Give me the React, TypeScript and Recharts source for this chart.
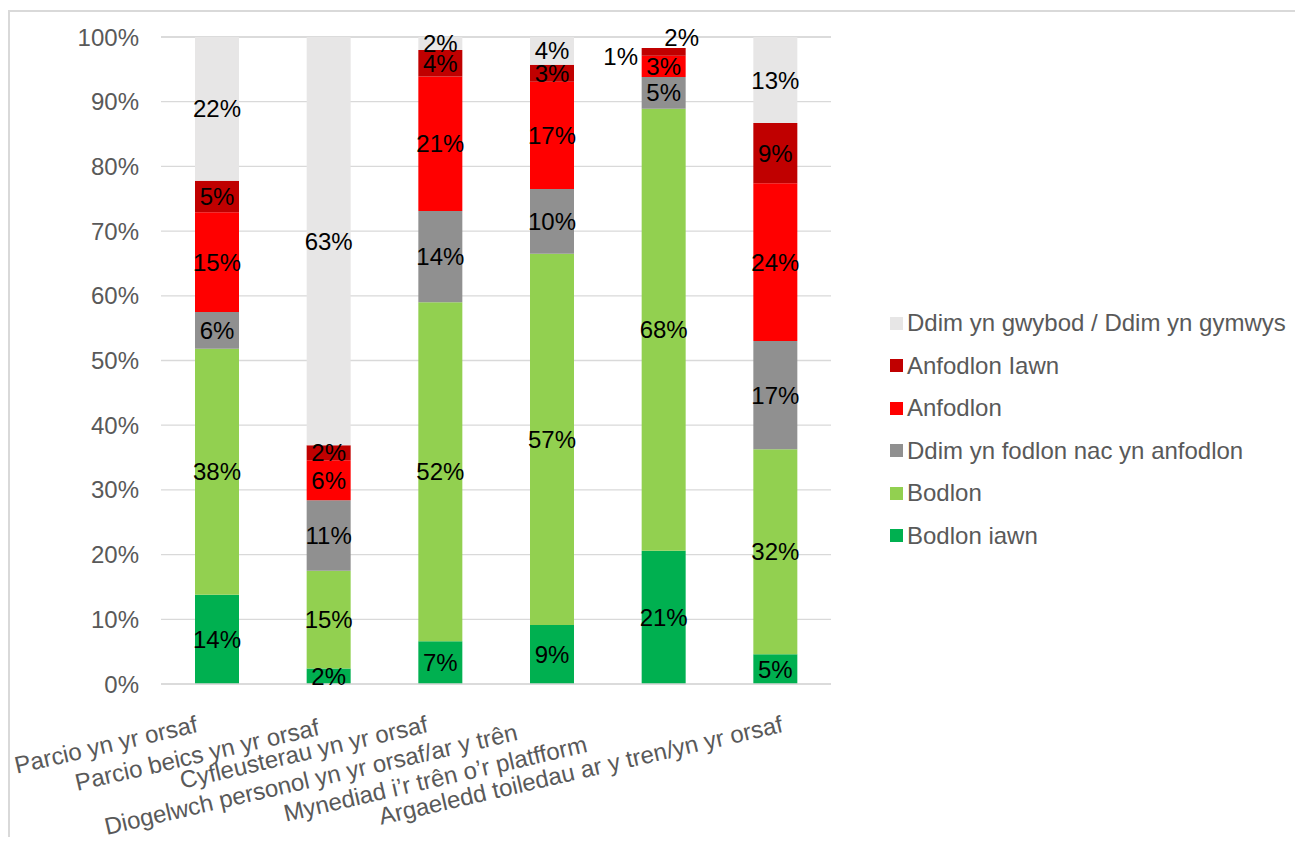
import React from 'react';
import { BarChart, Bar, XAxis, YAxis, CartesianGrid, Legend, LabelList, Cell } from 'recharts';

const categories = [
  'Parcio yn yr orsaf',
  'Parcio beics yn yr orsaf',
  'Cyfleusterau yn yr orsaf',
  'Diogelwch personol yn yr orsaf/ar y trên',
  'Mynediad i\u2019r trên o\u2019r platfform',
  'Argaeledd toiledau ar y tren/yn yr orsaf',
];

const bodlonIawn = [13.8, 2.4, 6.6, 9.1, 20.6, 4.6];
const bodlon = [38.0, 15.1, 52.4, 57.4, 68.3, 31.7];
const niwtral = [5.7, 10.9, 14.1, 10.0, 4.9, 16.7];
const anfodlon = [15.4, 6.2, 20.8, 16.6, 3.3, 24.4];
const anfodlonIawn = [4.9, 2.3, 4.1, 2.6, 1.2, 9.3];
const ddimGwybod = [22.2, 63.1, 2.0, 4.3, 1.7, 13.3];

const yTicks = [0, 10, 20, 30, 40, 50, 60, 70, 80, 90, 100];

const seriesList = [
  { key: 'bodlonIawn', name: 'Bodlon iawn', color: '#00B050', values: bodlonIawn },
  { key: 'bodlon', name: 'Bodlon', color: '#92D050', values: bodlon },
  { key: 'niwtral', name: 'Ddim yn fodlon nac yn anfodlon', color: '#909090', values: niwtral },
  { key: 'anfodlon', name: 'Anfodlon', color: '#FF0000', values: anfodlon },
  { key: 'anfodlonIawn', name: 'Anfodlon Iawn', color: '#C00000', values: anfodlonIawn },
  { key: 'ddimGwybod', name: 'Ddim yn gwybod / Ddim yn gymwys', color: '#E7E6E6', values: ddimGwybod },
];

const data = categories.map((name, i) => {
  const row: any = { name };
  seriesList.forEach((s) => { row[s.key] = s.values[i]; });
  return row;
});

// points drawn with no fill (label only)
const noFill: Record<string, number[]> = { ddimGwybod: [4] };

// hand-placed labels, as in the original
const labelNudge: Record<string, [number, number]> = {
  'anfodlonIawn:4': [-43, 5],
  'ddimGwybod:4': [18, -5],
};

// excel staggers the rotated category labels a bit
const tickShift = [-22, -12, -15, -37, -79, 5];
const tickDrop = [0, 3, 0, 8, 20, 0];

const FONT = '"Liberation Sans", Arial, sans-serif';

const makeLabel = (key: string) => (props: any) => {
  const { x, y, width, height, value, index } = props;
  const nudge = labelNudge[key + ':' + index] || [0, 0];
  const cx = Number(x) + Number(width) / 2 + nudge[0];
  const cy = Number(y) + Number(height) / 2 + nudge[1];
  return (
    <text x={cx} y={cy} textAnchor="middle" dominantBaseline="central"
      fontSize={24} fontFamily={FONT} fill="#000">
      {Math.round(value) + '%'}
    </text>
  );
};

const XTick = (props: any) => {
  const { x, y, payload, index } = props;
  const ax = x + tickShift[index];
  const ay = y + 31 + tickDrop[index];
  return (
    <text x={ax} y={ay} dy="0.72em" textAnchor="end" fontSize={24} fontFamily={FONT}
      fill="#595959" transform={`rotate(-13, ${ax}, ${ay})`}>
      {payload.value}
    </text>
  );
};

const renderLegend = () => {
  const items = seriesList.slice().reverse();
  return (
    <div style={{ fontFamily: FONT, fontSize: 24, color: '#595959' }}>
      {items.map((it) => (
        <div key={it.key} style={{ height: 42.5, display: 'flex', alignItems: 'center', whiteSpace: 'nowrap' }}>
          <span style={{ width: 13, height: 13, background: it.color, display: 'inline-block', marginRight: 4 }} />
          <span>{it.name}</span>
        </div>
      ))}
    </div>
  );
};

export default function App() {
  return (
    <div style={{ position: 'relative', width: 1295, height: 829, fontFamily: FONT }}>
      <BarChart width={1295} height={829} data={data}
        margin={{ top: 29, right: 472, left: 0, bottom: 0 }} barSize={44}>
        <CartesianGrid vertical={false} stroke="#d9d9d9" strokeWidth={1.3} />
        <XAxis dataKey="name" height={153} interval={0} tickLine={false} tickSize={0} tickMargin={0}
          axisLine={{ stroke: '#d9d9d9', strokeWidth: 1.3 }} tick={<XTick />} />
        <YAxis domain={[0, 100]} ticks={yTicks} width={153} tickLine={false} axisLine={false}
          tickSize={0} tickMargin={22} tickFormatter={(v: number) => v + '%'}
          tick={{ fontSize: 24, fill: '#595959', fontFamily: FONT }} />
        <Legend layout="vertical" align="center" verticalAlign="middle" content={renderLegend}
          wrapperStyle={{ left: 882, top: 294, width: 'auto' }} />
        {seriesList.map((s) => (
          <Bar key={s.key} dataKey={s.key} name={s.name} stackId="a" fill={s.color} isAnimationActive={false}>
            {data.map((_, i) => (
              <Cell key={i} fill={(noFill[s.key] || []).includes(i) ? 'none' : s.color} />
            ))}
            <LabelList dataKey={s.key} content={makeLabel(s.key)} />
          </Bar>
        ))}
      </BarChart>
      <div style={{ position: 'absolute', left: 0, top: 2, width: 1290, height: 825, zIndex: 5,
        borderTop: '2px solid #d9d9d9', borderLeft: '2px solid #d9d9d9', pointerEvents: 'none' }} />
    </div>
  );
}
